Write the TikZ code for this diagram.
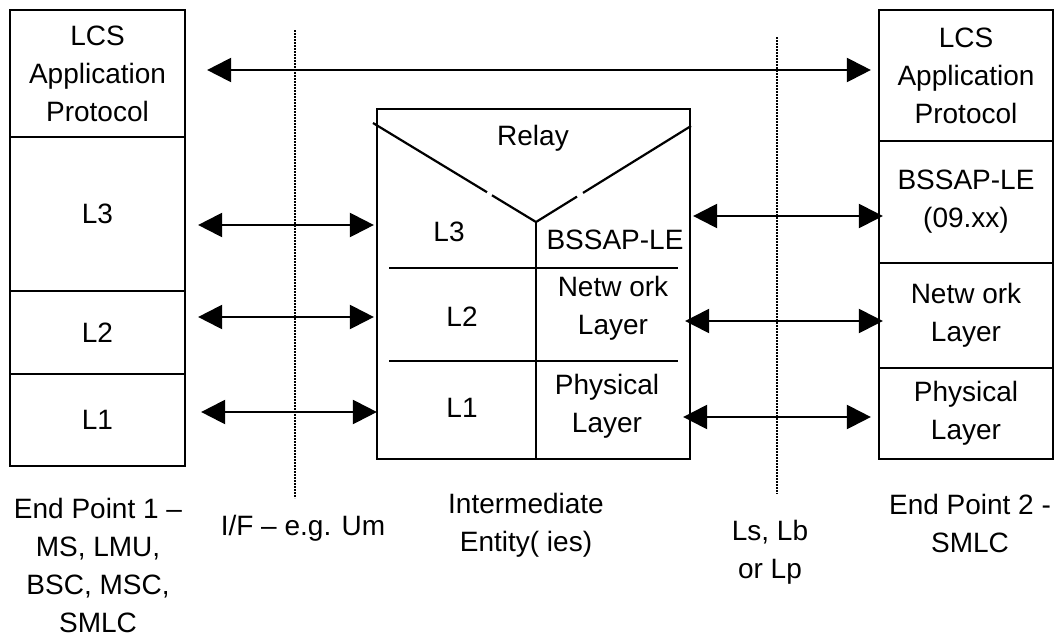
\documentclass[tikz,border=0pt]{standalone}
\usepackage{fontspec}
\setmainfont{Liberation Sans}
\usetikzlibrary{arrows.meta}

\begin{document}
\begin{tikzpicture}[x=1pt,y=-1pt,
    every node/.style={font=\fontsize{28}{38}\selectfont,align=center,inner sep=0pt},
    lay/.style={draw,line width=2.2pt},
    left stack/.style={lay,minimum width=175pt},
    right stack/.style={lay,minimum width=174pt},
    link/.style={line width=2.2pt,{Triangle[length=24pt,width=24pt]}-{Triangle[length=24pt,width=24pt]}},
    sep/.style={line width=1.6pt,dash pattern=on 1.6pt off 1.4pt}]
  \useasboundingbox (0,0) rectangle (1059,637);
  \node[left stack,minimum height=127pt] (lapp) at (97.5,73.5) {LCS\\Application\\Protocol};
  \node[left stack,minimum height=154pt] (ll3) at (97.5,214) {L3};
  \node[left stack,minimum height=83pt] (ll2) at (97.5,332.5) {L2};
  \node[left stack,minimum height=92pt] (ll1) at (97.5,420) {L1};
  \node[right stack,minimum height=131pt] (rapp) at (966,75.5) {LCS\\Application\\Protocol};
  \node[right stack,minimum height=122pt] (rbss) at (966,202) {BSSAP-LE\\(09.xx)};
  \node[right stack,minimum height=105pt] (rnet) at (966,315.5) {Netw ork\\Layer};
  \node[right stack,minimum height=91pt] (rphy) at (966,413.5) {Physical\\Layer};
  \node[lay,minimum width=313pt,minimum height=350pt] (ent) at (533.5,284) {};
  \draw[lay] (373,123) -- (487,192.2) (492,195.3) -- (536,222) -- (577,196.6) (583,192.9) -- (691,126);
  \draw[lay] (536,222) -- (536,459);
  \draw[lay] (389,268) -- (678,268) (389,361) -- (678,361);
  \node (relay) at (533,138) {Relay};
  \node (el3) at (449,232) {L3};
  \node (ebss) at (615,240) {BSSAP-LE};
  \node (el2) at (462,317) {L2};
  \node (enet) at (613,308) {Netw ork\\Layer};
  \node (el1) at (462,408) {L1};
  \node (ephy) at (607,406) {Physical\\Layer};
  \draw[link,shorten <=21pt,shorten >=7pt] (lapp.east |- 0,70) -- (rapp.west |- 0,70);
  \draw[link,shorten <=12pt,shorten >=2pt] (ll3.east |- 0,225) -- (ent.west |- 0,225);
  \draw[link,shorten <=12pt,shorten >=2pt] (ll2.east |- 0,317) -- (ent.west |- 0,317);
  \draw[link,shorten <=15pt,shorten >=-1pt] (ll1.east |- 0,412) -- (ent.west |- 0,412);
  \draw[link,shorten <=2pt,shorten >=-5pt] (ent.east |- 0,216) -- (rbss.west |- 0,216);
  \draw[link,shorten <=-6pt,shorten >=-5pt] (ent.east |- 0,321) -- (rnet.west |- 0,321);
  \draw[link,shorten <=-8pt,shorten >=7pt] (ent.east |- 0,417) -- (rphy.west |- 0,417);
  \draw[sep] (295,30) -- (295,498);
  \draw[sep] (777,37) -- (777,494);
  \node (ep1) at (98,565) {End Point 1 --\\MS, LMU,\\BSC, MSC,\\SMLC};
  \node (ifum) at (303,528) {I/F -- e.g. Um};
  \node (inter) at (526,525) {Intermediate\\Entity( ies)};
  \node (lslb) at (770,552) {Ls, Lb\\or Lp};
  \node (ep2) at (970,523) {End Point 2 -\\SMLC};
\end{tikzpicture}
\end{document}
